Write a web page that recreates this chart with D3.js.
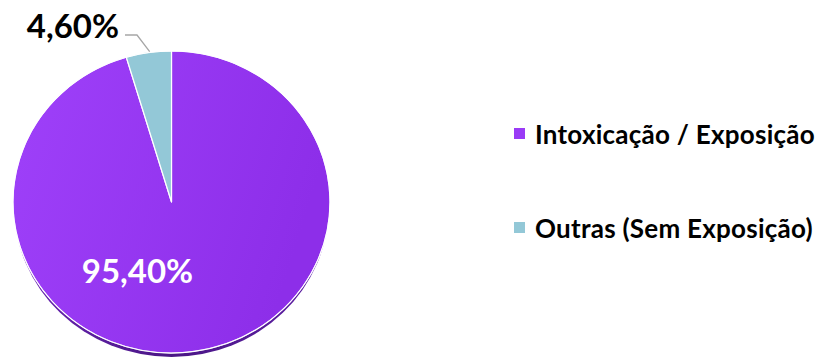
<!DOCTYPE html>
<html>
<head>
<meta charset="utf-8">
<script src="https://cdn.jsdelivr.net/npm/d3@7"></script>
<style>
  html, body { margin: 0; padding: 0; background: #ffffff; }
  svg { display: block; }
  text { font-family: Lato, "Open Sans", sans-serif; font-weight: 700; }
</style>
</head>
<body>
<svg id="chart" width="824" height="357"></svg>
<script>
// Distribution of cases by exposure type
const categories = ["Intoxicação / Exposição", "Outras (Sem Exposição)"];
const shares = [95.40, 4.60];
const labels = ["95,40%", "4,60%"];
const colors = ["#9a3bf6", "#93c8d7"];

const W = 824, H = 357;
const svg = d3.select("#chart");

// Pie geometry: slightly tilted disc (elliptical top face with a thin rim)
const cx = 171.5, cy = 202, rx = 158.5, ry = 151, depth = 4;

const defs = svg.append("defs");
const grad = defs.append("linearGradient")
  .attr("id", "violet").attr("x1", "0").attr("y1", "0").attr("x2", "1").attr("y2", "0.3");
grad.append("stop").attr("offset", "0%").attr("stop-color", "#9f41fa");
grad.append("stop").attr("offset", "100%").attr("stop-color", "#8d2ee9");

const rimGrad = defs.append("linearGradient")
  .attr("id", "rim").attr("x1", "0").attr("y1", "0").attr("x2", "1").attr("y2", "0");
rimGrad.append("stop").attr("offset", "0%").attr("stop-color", "#6a24b5");
rimGrad.append("stop").attr("offset", "50%").attr("stop-color", "#4a1685");
rimGrad.append("stop").attr("offset", "100%").attr("stop-color", "#5e1fa6");

const pie = d3.pie().sort(null).value(d => d)
  .startAngle(0).endAngle(2 * Math.PI);
const arcs = pie(shares);

const R = 100;
const arc = d3.arc().innerRadius(0).outerRadius(R);

// rim / thickness
svg.append("ellipse")
  .attr("cx", cx).attr("cy", cy + depth)
  .attr("rx", rx - 1).attr("ry", ry)
  .attr("fill", "url(#rim)");

const g = svg.append("g")
  .attr("transform", `translate(${cx},${cy}) scale(${rx / R},${ry / R})`);

g.selectAll("path.slice")
  .data(arcs)
  .join("path")
  .attr("class", "slice")
  .attr("d", arc)
  .attr("fill", (d, i) => i === 0 ? "url(#violet)" : colors[i])
  .attr("stroke", "#ffffff")
  .attr("stroke-width", 1.2)
  .attr("stroke-linejoin", "round")
  .attr("vector-effect", "non-scaling-stroke");

// outer light edge
svg.append("ellipse")
  .attr("cx", cx).attr("cy", cy).attr("rx", rx).attr("ry", ry)
  .attr("fill", "none").attr("stroke", "#ffffff").attr("stroke-opacity", 0.7).attr("stroke-width", 1);

// point on the top face for a given pie angle and radial fraction
function facePoint(angle, frac) {
  return [cx + Math.sin(angle) * rx * frac, cy - Math.cos(angle) * ry * frac];
}

// inside label for the large slice
svg.append("text")
  .attr("x", cx - 34).attr("y", cy + 81)
  .attr("text-anchor", "middle")
  .attr("fill", "#ffffff")
  .attr("font-size", 33)
  .text(labels[0]);

// outside label with leader line for the small slice
const small = arcs[1];
const mid = (small.startAngle + small.endAngle) / 2;
const edge = facePoint(mid, 1.0);
const elbow = [137, 35];
const lineStart = [125, 35];
svg.append("polyline")
  .attr("points", [[edge[0] + 1, edge[1] - 1], elbow, lineStart].map(p => p.join(",")).join(" "))
  .attr("fill", "none")
  .attr("stroke", "#a6a6a6")
  .attr("stroke-width", 1.3);

svg.append("text")
  .attr("x", 119).attr("y", 38)
  .attr("text-anchor", "end")
  .attr("fill", "#000000")
  .attr("font-size", 33)
  .text(labels[1]);

// legend
const legendY = d3.scalePoint().domain(categories).range([134, 228]);
const lg = svg.append("g");
const items = lg.selectAll("g").data(categories).join("g")
  .attr("transform", d => `translate(514,${legendY(d)})`);
items.append("rect")
  .attr("x", 0).attr("y", -6).attr("width", 11).attr("height", 11)
  .attr("fill", (d, i) => colors[i]);
items.append("text")
  .attr("x", 21).attr("y", 9.5)
  .attr("fill", "#000000")
  .attr("font-size", 26)
  .attr("letter-spacing", 0.25)
  .text(d => d);
</script>
</body>
</html>
